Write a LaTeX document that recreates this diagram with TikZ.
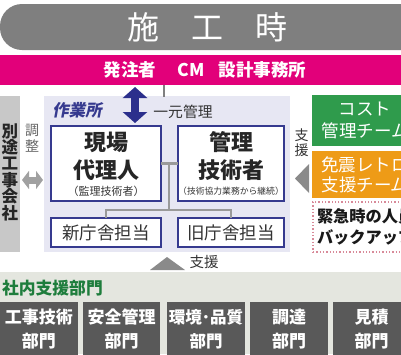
\documentclass[tikz,border=0pt]{standalone}
\usepackage{fontspec}
\setmainfont{Noto Sans CJK JP}
\newfontfamily\jpsl[FakeSlant=0.18]{Noto Sans CJK JP}
\usetikzlibrary{arrows.meta}
\definecolor{titlegray}{HTML}{7F7F7F}
\definecolor{magentabar}{HTML}{E2007A}
\definecolor{leftgray}{HTML}{C8C8C8}
\definecolor{lavender}{HTML}{E7E7F3}
\definecolor{boxblue}{HTML}{363A8F}
\definecolor{conngray}{HTML}{9A9A9A}
\definecolor{arrowgray}{HTML}{8A8A8A}
\definecolor{darkblue}{HTML}{2B2F8C}
\definecolor{greenbox}{HTML}{2F9B4C}
\definecolor{orangebox}{HTML}{EE9B17}
\definecolor{pinkdot}{HTML}{D88A99}
\definecolor{bottombg}{HTML}{E4E6DF}
\definecolor{secgreen}{HTML}{1E7D3C}
\definecolor{deptgray}{HTML}{595959}
\definecolor{textdark}{HTML}{333333}
\newcommand{\fsz}[2]{\fontsize{#1}{#2}\selectfont}
\begin{document}
\begin{tikzpicture}[x=1pt,y=-1pt,
  every node/.style={inner sep=0pt, outer sep=0pt},
  bluebox/.style={draw=boxblue, line width=1.5pt, fill=white},
  conn/.style={draw=conngray, line width=2.5pt},
  deptbox/.style={fill=deptgray, minimum width=#1, minimum height=54pt, text=white, align=center, font=\bfseries\fsz{17}{24}},
  teambox/.style={minimum width=106pt, text=white, align=center},
  bigtxt/.style={font=\bfseries\fsz{22}{24}, text=black!85},
]
\useasboundingbox (0,0) rectangle (401,354);
\clip (0,0) rectangle (401,354);

% title
\node[fill=titlegray, rounded corners=22pt, minimum width=440pt, minimum height=46pt] (titlebar) at (220,27) {};
\node[text=white, font=\fsz{32}{34}] (titletext) at (207,27) {施　工　時};

% owner bar
\node[fill=magentabar, minimum width=401pt, minimum height=30pt] (owner) at (200.5,70) {};
\node[text=white, font=\bfseries\fsz{17.5}{20}] (ownertext) at (205,70) {発注者\hspace{21pt}CM\hspace{14pt}設計事務所};

% left company
\node[fill=leftgray, minimum width=20pt, minimum height=156pt] (beto) at (10,174) {};
\node[align=center, font=\bfseries\fsz{16.5}{16.4}, text=black!85] (betotext) at (10,172) {別\\途\\工\\事\\会\\社};
\node[align=center, font=\fsz{14}{16}, text=black!60] (chosei) at (32,138) {調\\整};

% site
\node[fill=lavender, minimum width=246pt, minimum height=156pt] (site) at (167,174) {};
\node[text=boxblue, font=\jpsl\bfseries\fsz{16.5}{18}] (sitelabel) at (77,110) {作業所};

\coordinate (ya) at (0,180);
\draw[draw=arrowgray!80, line width=7pt, {Triangle[width=18pt,length=7pt]}-{Triangle[width=18pt,length=7pt]}] ([xshift=2pt]beto.east |- ya) -- ([xshift=-1pt]site.west |- ya);

% boxes
\node[bluebox, minimum width=110pt, minimum height=75pt] (genba) at (106,163.5) {};
\node[bigtxt] (genba1) at (106,142) {現場};
\node[bigtxt] (genba2) at (106,170) {代理人};
\node[font=\fsz{11}{12}, text=textdark] (genba3) at (106,191) {（監理技術者）};

\node[bluebox, minimum width=106pt, minimum height=75pt] (kanri) at (231,163.5) {};
\node[bigtxt] (kanri1) at (231,142) {管理};
\node[bigtxt] (kanri2) at (231,170) {技術者};
\node[font=\fsz{8.8}{10}, text=textdark] (kanri3) at (231,191) {（技術協力業務から継続）};

\node[bluebox, minimum width=110pt, minimum height=29pt, font=\fsz{17.5}{20}, text=textdark] (shin) at (106,232.5) {新庁舎担当};
\node[bluebox, minimum width=106pt, minimum height=29pt, font=\fsz{17.5}{20}, text=textdark] (kyu) at (231,232.5) {旧庁舎担当};

\draw[conn] (genba.east) -- (kanri.west);
\coordinate (j1) at (169,163.5);
\coordinate (j2) at (169,210);
\draw[conn] (j1) -- (j2);
\draw[conn] (shin.north) |- (j2) -| (kyu.north);

% blue arrow and management line
\coordinate (xb) at (135,0);
\draw[draw=darkblue, line width=8pt, {Triangle[width=24pt,length=11pt]}-{Triangle[width=24pt,length=11pt]}, shorten <=2pt, shorten >=3pt] (owner.south -| xb) -- (genba.north -| xb);
\coordinate (ichigentop) at (164,97);
\draw[draw=gray, line width=1.2pt] (owner.south -| ichigentop) -- (ichigentop);
\node[font=\fsz{14.8}{16}, text=textdark] (ichigen) at (183,112) {一元管理};

% right teams
\node[teambox, fill=greenbox, minimum height=51pt, font=\fsz{17.5}{22}] (cost) at (365,120.5) {コスト\\管理チーム};
\node[teambox, fill=orangebox, minimum height=47pt, font=\fsz{17.5}{20}] (menshin) at (365,174.5) {免震レトロ\\支援チーム};
\node[draw=pinkdot, dotted, line width=1.3pt, fill=white, minimum width=107pt, minimum height=50pt] (kinkyu) at (366.5,227) {};
\node[anchor=west, font=\bfseries\fsz{16.2}{20}, text=black!90] (kinkyu1) at (317,216) {緊急時の人員};
\node[anchor=west, font=\bfseries\fsz{16.2}{20}, text=black!90] (kinkyu2) at (317,237) {バックアップ};

\node[align=center, font=\fsz{14}{15}, text=textdark] (shien2) at (301.5,142.5) {支\\援};
\fill[arrowgray] (309,164) -- (295,178.5) -- (309,193) -- cycle;

% bottom departments
\node[fill=bottombg, minimum width=401pt, minimum height=82pt] (dept) at (200.5,313) {};
\fill[arrowgray] (150,270) -- (167,257) -- (185,270) -- cycle;
\node[font=\fsz{14.5}{16}, text=textdark] (shien1) at (204,262) {支援};
\node[anchor=west, text=secgreen, font=\bfseries\fsz{16.8}{18}] (deptlabel) at (2,288) {社内支援部門};

\node[deptbox=78pt] (d1) at (39,329) {工事技術\\部門};
\node[deptbox=77pt] (d2) at (121.5,329) {安全管理\\部門};
\node[deptbox=78pt, font=\bfseries\fsz{16.5}{24}] (d3) at (206,329) {環境･品質\\部門};
\node[deptbox=78pt] (d4) at (289,329) {調達\\部門};
\node[deptbox=77pt] (d5) at (371.5,329) {見積\\部門};
\end{tikzpicture}
\end{document}
